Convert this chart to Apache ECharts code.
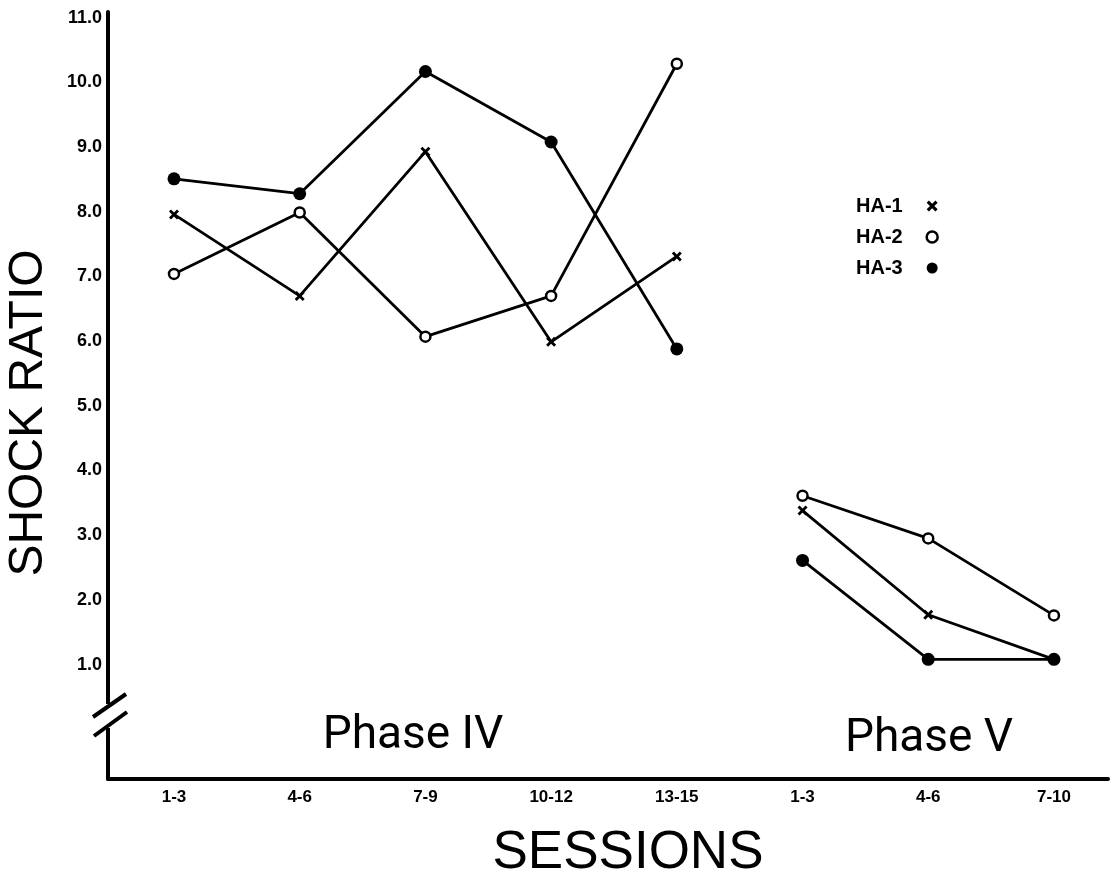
<!DOCTYPE html>
<html>
<head>
<meta charset="utf-8">
<script src="https://cdn.jsdelivr.net/npm/echarts@6/dist/echarts.min.js"></script>
<style>
html,body{margin:0;padding:0;background:#fff;}
#chart{width:1115px;height:883px;}
</style>
</head>
<body>
<div id="chart"></div>
<script>
const categories = ['1-3', '4-6', '7-9', '10-12', '13-15', '1-3', '4-6', '7-10'];
const phase4Idx = [0, 1, 2, 3, 4];
const phase5Idx = [5, 6, 7];
const yTicks = [1, 2, 3, 4, 5, 6, 7, 8, 9, 10, 11];

const ha1Phase4 = [7.96, 6.70, 8.93, 5.99, 7.31];
const ha1Phase5 = [3.38, 1.77, 1.08];
const ha2Phase4 = [7.04, 7.99, 6.07, 6.70, 10.29];
const ha2Phase5 = [3.61, 2.95, 1.76];
const ha3Phase4 = [8.51, 8.28, 10.17, 9.08, 5.88];
const ha3Phase5 = [2.61, 1.08, 1.08];

const crossPath = 'path://M0,2L2,0L5,3L8,0L10,2L7,5L10,8L8,10L5,7L2,10L0,8L3,5Z';

function pairs(idx, vals) { return idx.map((x, i) => [x, vals[i]]); }

const styles = {
  'HA-1': { symbol: crossPath, symbolSize: 10, itemStyle: { color: '#000' } },
  'HA-2': { symbol: 'circle', symbolSize: 10, itemStyle: { color: '#fff', borderColor: '#000', borderWidth: 2.5 } },
  'HA-3': { symbol: 'circle', symbolSize: 13, itemStyle: { color: '#000' } }
};

function mk(name, idx, vals) {
  const s = styles[name];
  return {
    name: name, type: 'line', data: pairs(idx, vals),
    symbol: s.symbol, symbolSize: s.symbolSize, itemStyle: s.itemStyle,
    lineStyle: { color: '#000', width: 2.8 }, showAllSymbol: true, animation: false, z: 3
  };
}

const series = [
  mk('HA-1', phase4Idx, ha1Phase4), mk('HA-1', phase5Idx, ha1Phase5),
  mk('HA-2', phase4Idx, ha2Phase4), mk('HA-2', phase5Idx, ha2Phase5),
  mk('HA-3', phase4Idx, ha3Phase4), mk('HA-3', phase5Idx, ha3Phase5)
];

const chart = echarts.init(document.getElementById('chart'), null, { renderer: 'canvas' });
chart.setOption({
  backgroundColor: '#fff',
  animation: false,
  grid: { left: 108, right: 7, top: 12, bottom: 104, containLabel: false },
  legend: {
    orient: 'vertical', left: 851, top: 191, align: 'right', itemGap: 11,
    itemWidth: 11, itemHeight: 11, selectedMode: false,
    textStyle: { fontFamily: 'Liberation Sans', fontWeight: 'bold', fontSize: 20, color: '#000', padding: [0, 19, 0, 0] },
    data: [
      { name: 'HA-1', icon: crossPath, itemStyle: { color: '#000' } },
      { name: 'HA-2', icon: 'circle', itemStyle: { color: '#fff', borderColor: '#000', borderWidth: 2.5 } },
      { name: 'HA-3', icon: 'circle', itemStyle: { color: '#000' } }
    ]
  },
  xAxis: {
    type: 'value', min: -0.525, max: 7.43,
    axisLine: { show: true, onZero: false, lineStyle: { color: '#000', width: 4 } },
    axisTick: { show: false }, splitLine: { show: false },
    axisLabel: {
      customValues: phase4Idx.concat(phase5Idx),
      formatter: v => categories[Math.round(v)],
      color: '#000', fontFamily: 'Liberation Sans', fontWeight: 'bold', fontSize: 17, margin: 10
    }
  },
  yAxis: {
    type: 'value', min: -0.77, max: 11.09,
    axisLine: { show: true, onZero: false, lineStyle: { color: '#000', width: 4 } },
    axisTick: { show: false }, splitLine: { show: false },
    axisLabel: {
      customValues: yTicks,
      formatter: v => v.toFixed(1),
      color: '#000', fontFamily: 'Liberation Sans', fontWeight: 'bold', fontSize: 18, margin: 6
    }
  },
  graphic: [
    { type: 'rect', shape: { x: 103, y: 704, width: 10, height: 24 }, style: { fill: '#fff' }, z: 100 },
    { type: 'line', shape: { x1: 93, y1: 717, x2: 126, y2: 694 }, style: { stroke: '#000', lineWidth: 4 }, z: 101 },
    { type: 'line', shape: { x1: 94, y1: 736, x2: 127, y2: 712 }, style: { stroke: '#000', lineWidth: 4 }, z: 101 },
    { type: 'text', x: 29, y: 413, rotation: Math.PI / 2,
      style: { text: 'SHOCK RATIO', font: 'normal 48px "Liberation Sans"', fill: '#000', textAlign: 'center', textVerticalAlign: 'middle' } },
    { type: 'text', x: 628, y: 853,
      style: { text: 'SESSIONS', font: 'normal 53px "Liberation Sans"', fill: '#000', textAlign: 'center', textVerticalAlign: 'middle' } },
    { type: 'text', x: 413, y: 736,
      style: { text: 'Phase IV', font: 'normal 46px Roboto', fill: '#000', textAlign: 'center', textVerticalAlign: 'middle' } },
    { type: 'text', x: 929, y: 739,
      style: { text: 'Phase V', font: 'normal 46px Roboto', fill: '#000', textAlign: 'center', textVerticalAlign: 'middle' } }
  ],
  series: series
});
</script>
</body>
</html>
